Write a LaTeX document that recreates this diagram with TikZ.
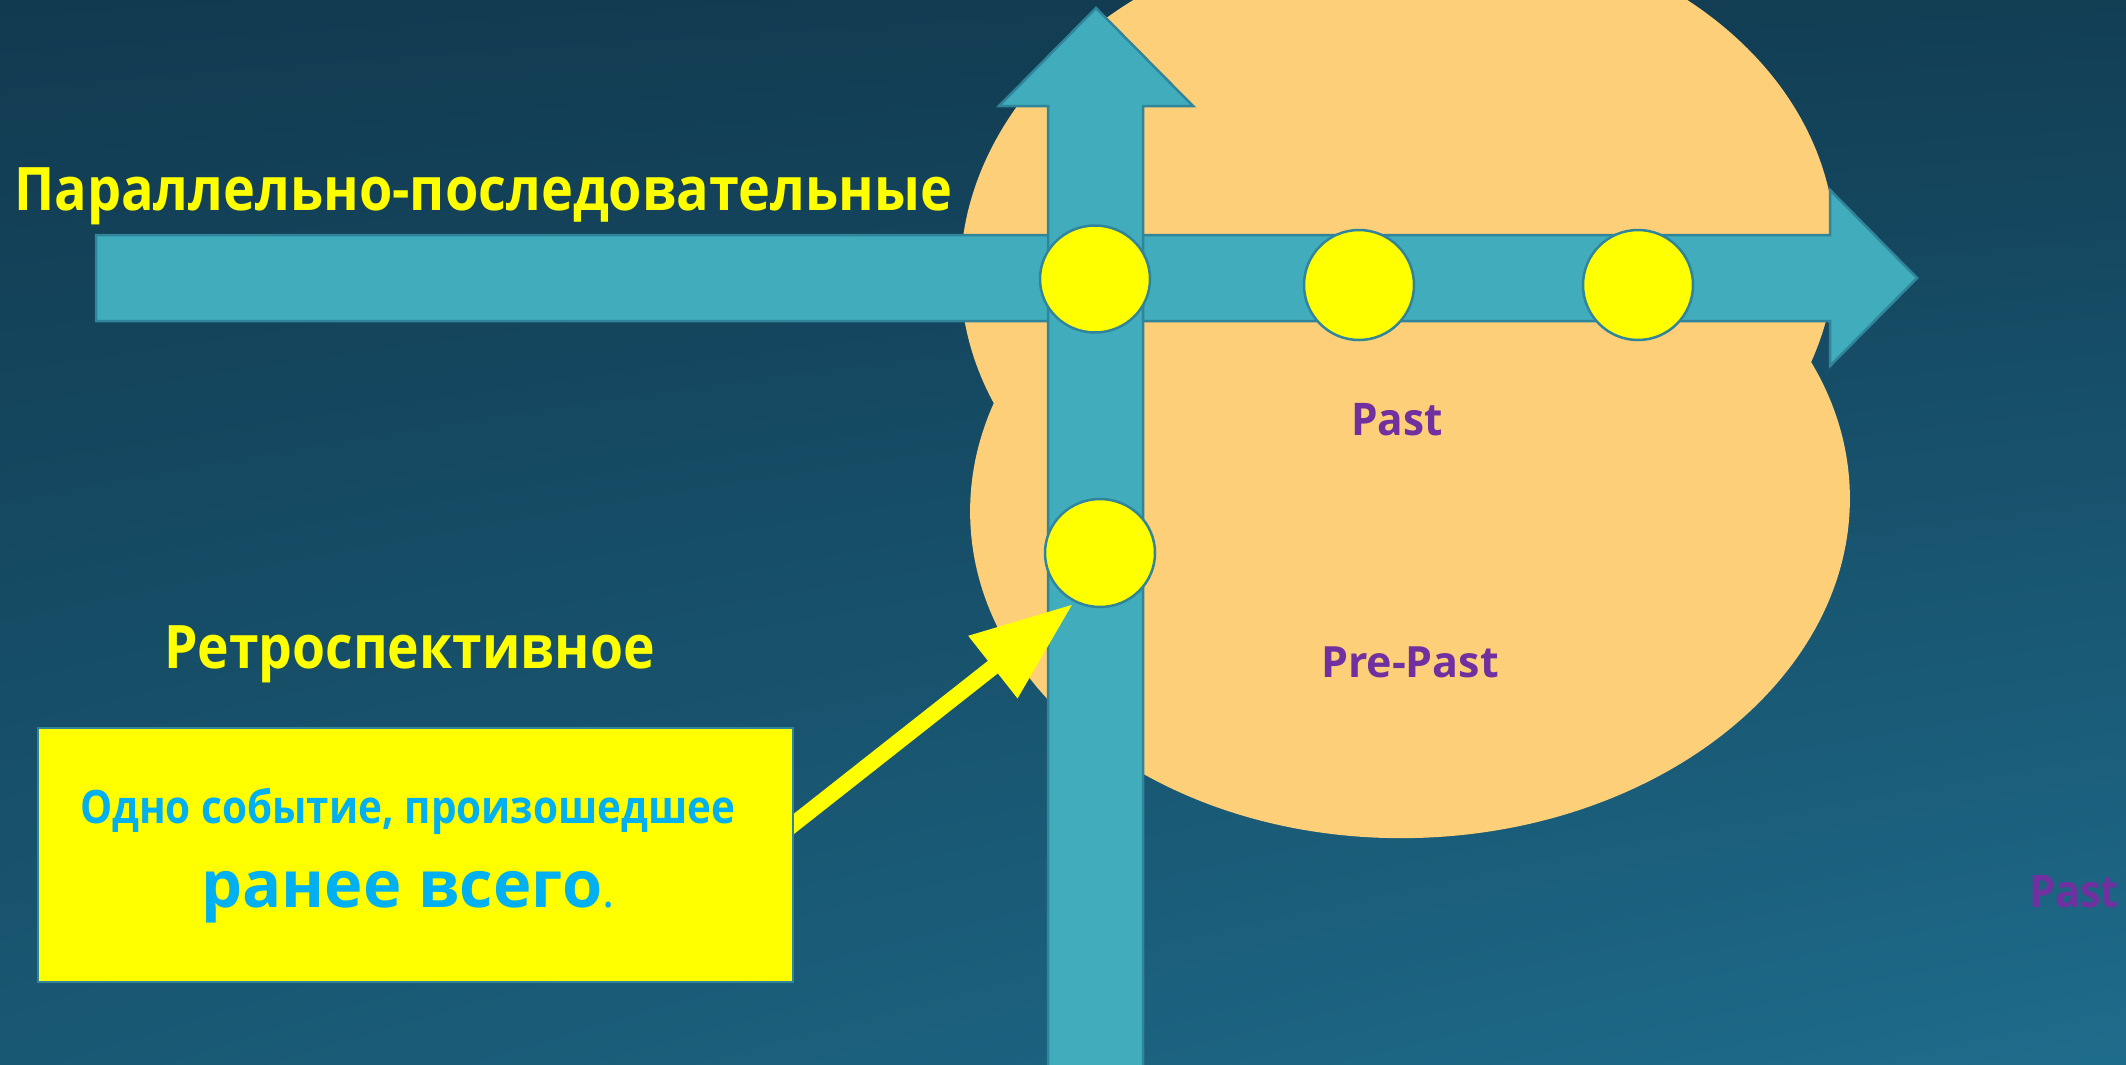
\documentclass[tikz,border=0pt]{standalone}
\usepackage{fontspec}
\usepackage{graphicx}
\setmainfont{Open Sans}
\usetikzlibrary{arrows.meta,shapes.geometric,shadings}
\definecolor{bgTL}{RGB}{17,58,80}
\definecolor{bgTR}{RGB}{18,62,84}
\definecolor{bgBL}{RGB}{25,88,115}
\definecolor{bgBR}{RGB}{30,108,140}
\definecolor{cloudc}{RGB}{252,207,120}
\definecolor{tealfill}{RGB}{65,172,188}
\definecolor{tealline}{RGB}{49,133,155}
\definecolor{evyellow}{RGB}{255,255,0}
\definecolor{txtcyan}{RGB}{0,176,240}
\definecolor{txtpurple}{RGB}{112,48,160}
\tikzset{
  bigarrow/.style={fill=tealfill,draw=tealline,line width=2.5pt,line join=miter},
  evnode/.style={ellipse,fill=evyellow,draw=tealline,line width=2.5pt,inner sep=0pt,minimum width=110pt,minimum height=107pt},
  headtxt/.style={text=evyellow,font=\fontsize{60}{72}\selectfont\bfseries,inner sep=0pt},
  pasttxt/.style={text=txtpurple,font=\fontsize{45}{54}\selectfont\bfseries,inner sep=0pt},
  notebox/.style={rectangle,fill=evyellow,draw=tealline,line width=2.5pt,inner sep=0pt,minimum width=755pt,minimum height=254pt},
  pointer/.style={draw=evyellow,line width=16pt,-{Triangle[length=102pt,width=75pt]},fill=evyellow}
}
\begin{document}
\begin{tikzpicture}[x=1pt,y={(0pt,-1pt)}]
\useasboundingbox (0,0) rectangle (2126,1065);
\shade[upper left=bgTL,upper right=bgTR,lower left=bgBL,lower right=bgBR] (0,0) rectangle (2126,1065);
% cloud
\fill[cloudc,rotate around={4:(1398,262)}] (1398,262) ellipse [x radius=438pt,y radius=338pt];
\fill[cloudc,rotate around={2:(1410,505)}] (1410,505) ellipse [x radius=440pt,y radius=333pt];
% horizontal arrow
\draw[bigarrow] (96,235) -- (1830,235) -- (1830,190) -- (1917,278) -- (1830,366) -- (1830,321) -- (96,321) -- cycle;
% vertical arrow
\draw[bigarrow] (1048,1080) -- (1048,106) -- (999,106) -- (1096,8) -- (1193,106) -- (1143,106) -- (1143,1080) -- cycle;
% events
\node[evnode] (e1) at (1095,279) {};
\node[evnode,minimum height=110pt] (e2) at (1359,285) {};
\node[evnode,minimum height=110pt] (e3) at (1638,285) {};
\node[evnode,minimum height=108pt] (e4) at (1100,553) {};
% labels
\node[headtxt,anchor=base west] (t1) at (14,210) {\scalebox{0.9}[1]{Параллельно-последовательные}};
\node[headtxt,anchor=base west] (t2) at (164,668) {\scalebox{0.89}[1]{Ретроспективное}};
\node[pasttxt,anchor=base] (p1) at (1397,435) {\scalebox{0.94}[1]{Past}};
\node[pasttxt,anchor=base,font=\fontsize{43}{52}\selectfont\bfseries] (p2) at (1410,677) {Pre-Past};
\node[pasttxt,anchor=base west] (p3) at (2029,907) {\scalebox{0.92}[1]{Past}};
% pointer arrow
\coordinate (astart) at (715,886);
\coordinate (atip) at (1073,604);
\draw[pointer] (astart) -- (atip);
% note box
\node[notebox] (box) at (415.5,855) {};
\node[anchor=base,text=txtcyan,font=\fontsize{46}{55}\selectfont\bfseries,inner sep=0pt] (bl1) at (408,823) {\scalebox{0.88}[1]{Одно событие, произошедшее}};
\node[anchor=base,text=txtcyan,font=\fontsize{65}{78}\selectfont\bfseries,inner sep=0pt] (bl2) at (408,907) {ранее всего{\fontsize{46}{55}\selectfont\mdseries.}};
\end{tikzpicture}
\end{document}
